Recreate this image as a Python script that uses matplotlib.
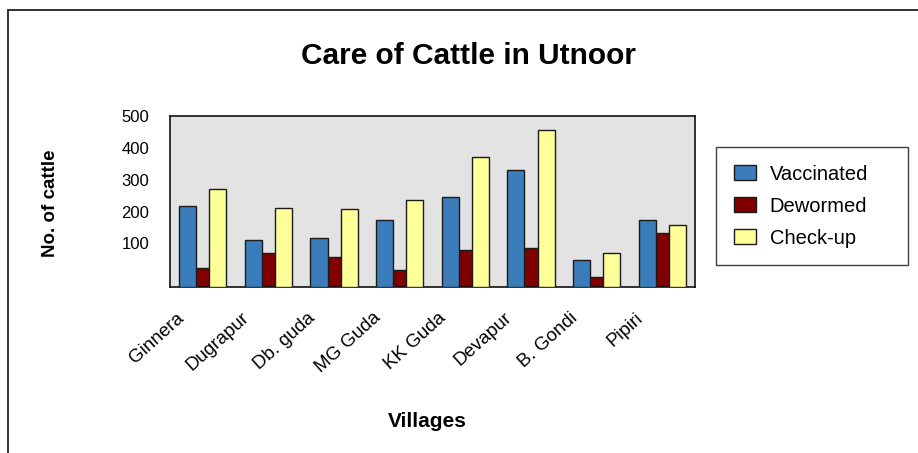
import matplotlib
matplotlib.use('Agg')
import matplotlib.pyplot as plt
import matplotlib.transforms as mtransforms
from matplotlib.patches import Rectangle
import numpy as np

plt.rcParams['font.family'] = ['Liberation Sans', 'DejaVu Sans']

villages = ['Ginnera', 'Dugrapur', 'Db. guda', 'MG Guda', 'KK Guda', 'Devapur', 'B. Gondi', 'Pipiri']
vaccinated = [218, 110, 116, 174, 247, 331, 47, 174]
dewormed = [22, 69, 57, 17, 80, 87, -6, 134]
checkup = [272, 210, 207, 236, 370, 456, 71, 157]
yticks = [100, 200, 300, 400, 500]
ymin, ymax = -35, 500

fig = plt.figure(figsize=(9.18, 4.53), dpi=100)
ax = fig.add_axes([0.1852, 0.3675, 0.5719, 0.3764])
ax.set_facecolor('#e3e3e3')

x = np.arange(len(villages))
w = 0.26
edge = dict(edgecolor='#1a1a1a', linewidth=1.0)
ax.bar(x, np.array(dewormed) - ymin, w, bottom=ymin, color='#800000',
       label='Dewormed', zorder=2, **edge)
ax.bar(x - 0.23, np.array(vaccinated) - ymin, w, bottom=ymin, color='#3a7dba',
       label='Vaccinated', zorder=3, **edge)
ax.bar(x + 0.23, np.array(checkup) - ymin, w, bottom=ymin, color='#ffff99',
       label='Check-up', zorder=3, **edge)

ax.set_xlim(-0.5, len(villages) - 0.5)
ax.set_ylim(ymin, ymax)
ax.set_yticks(yticks)
ax.set_yticklabels([str(t) for t in yticks], fontsize=12)
ax.tick_params(axis='y', length=0, pad=15)
ax.tick_params(axis='x', length=0)
ax.set_xticks(x)
ax.set_xticklabels(villages, rotation=42, ha='right', va='top',
                   rotation_mode='anchor', fontsize=13.5)
off = mtransforms.ScaledTranslation(-27 / 100, -18 / 100, fig.dpi_scale_trans)
for lab in ax.get_xticklabels():
    lab.set_transform(lab.get_transform() + off)
for s in ax.spines.values():
    s.set_color('#111111')
    s.set_linewidth(1.2)

fig.text(0.51, 0.876, 'Care of Cattle in Utnoor', ha='center', va='center',
         fontsize=21.5, fontweight='bold')
fig.text(0.055, 0.552, 'No. of cattle', ha='center', va='center', rotation=90,
         fontsize=13.5, fontweight='bold')
fig.text(0.466, 0.07, 'Villages', ha='center', va='center',
         fontsize=15, fontweight='bold')

handles, labels = ax.get_legend_handles_labels()
order = [1, 0, 2]
leg = fig.legend([handles[i] for i in order], [labels[i] for i in order],
                 loc='upper left', bbox_to_anchor=(0.780, 0.415, 0.2092, 0.2605),
                 mode='expand', fontsize=14.5,
                 frameon=True, fancybox=False, edgecolor='#111111',
                 handlelength=1.1, handleheight=0.8, borderpad=0.87,
                 labelspacing=0.65, handletextpad=0.7, borderaxespad=0)
leg.get_frame().set_linewidth(1.0)

fig.patches.append(Rectangle((8 / 918, -0.05), 1.1, 1 - 10 / 453 + 0.05,
                             transform=fig.transFigure, fill=False,
                             edgecolor='#222222', linewidth=1.3))

fig.savefig('out.png', dpi=100)
